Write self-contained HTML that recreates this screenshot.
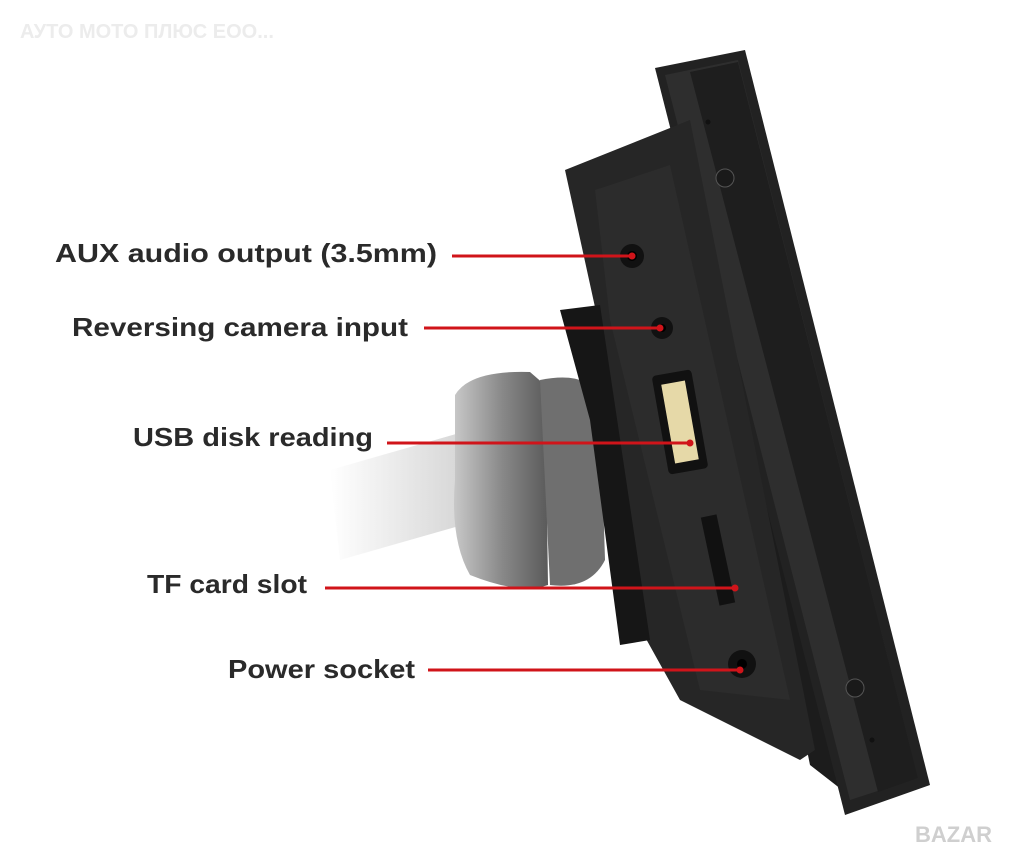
<!DOCTYPE html>
<html><head><meta charset="utf-8"><style>
html,body{margin:0;padding:0;background:#fff;width:1024px;height:862px;overflow:hidden}
svg{display:block}
text{font-family:"Liberation Sans",sans-serif}
</style></head><body>
<svg width="1024" height="862" viewBox="0 0 1024 862" xmlns="http://www.w3.org/2000/svg">
<defs>
<linearGradient id="knob" x1="0" x2="1"><stop offset="0" stop-color="#c8c8c8"/><stop offset="0.5" stop-color="#8a8a8a"/><stop offset="1" stop-color="#5a5a5a"/></linearGradient>
<linearGradient id="arm" x1="0" x2="1"><stop offset="0" stop-color="#fff"/><stop offset="1" stop-color="#bdbdbd"/></linearGradient>
</defs>
<text x="20" y="38" font-size="20" font-weight="bold" fill="#ececec">АУТО МОТО ПЛЮС ЕОО...</text>
<polygon points="330,470 470,430 480,520 340,560" fill="url(#arm)" opacity="0.7"/>
<path d="M455,395 Q470,370 530,372 L545,385 L548,585 Q520,595 470,575 Q450,540 455,480 Z" fill="url(#knob)"/>
<path d="M540,380 Q590,370 600,400 L605,560 Q590,590 550,585 Z" fill="#6f6f6f"/>
<!-- gap filler -->
<polygon points="680,120 760,110 855,800 810,765" fill="#1c1c1c"/>
<!-- outer screen frame -->
<polygon points="655,68 745,50 930,785 845,815" fill="#222"/>
<polygon points="665,75 738,60 918,778 850,800" fill="#2e2e2e"/>
<polygon points="690,72 738,62 918,778 878,792" fill="#1e1e1e"/>
<!-- body -->
<polygon points="565,170 690,120 815,750 800,760 680,700 630,610 600,330" fill="#262626"/>
<polygon points="595,190 670,165 790,700 700,690 610,320" fill="#2c2c2c"/>
<polygon points="560,310 600,305 650,640 620,645 590,420" fill="#161616"/>
<!-- ports -->
<circle cx="632" cy="256" r="12" fill="#111"/><circle cx="632" cy="256" r="5" fill="#000"/>
<circle cx="662" cy="328" r="11" fill="#111"/><circle cx="662" cy="328" r="4" fill="#000"/>
<rect x="660" y="372" width="40" height="100" rx="4" fill="#111" transform="rotate(-10 680 422)"/>
<rect x="668" y="382" width="24" height="80" fill="#e6d9a8" transform="rotate(-10 680 422)"/>
<rect x="710" y="515" width="16" height="90" fill="#111" transform="rotate(-12 718 560)"/>
<circle cx="742" cy="664" r="14" fill="#111"/><circle cx="742" cy="664" r="5" fill="#000"/>
<circle cx="725" cy="178" r="9" fill="#1a1a1a" stroke="#555"/>
<circle cx="855" cy="688" r="9" fill="#1a1a1a" stroke="#555"/>
<circle cx="708" cy="122" r="2.5" fill="#111"/><circle cx="872" cy="740" r="2.5" fill="#111"/>
<g font-size="26" font-weight="bold" fill="#2a2a2a">
<text x="55" y="262" textLength="382" lengthAdjust="spacingAndGlyphs">AUX audio output (3.5mm)</text>
<text x="72" y="336" textLength="336" lengthAdjust="spacingAndGlyphs">Reversing camera input</text>
<text x="133" y="446" textLength="240" lengthAdjust="spacingAndGlyphs">USB disk reading</text>
<text x="147" y="593" textLength="160" lengthAdjust="spacingAndGlyphs">TF card slot</text>
<text x="228" y="678" textLength="187" lengthAdjust="spacingAndGlyphs">Power socket</text>
</g>
<g stroke="#d0141a" stroke-width="3" fill="#d0141a">
<line x1="452" y1="256" x2="632" y2="256"/><circle cx="632" cy="256" r="3.5" stroke="none"/>
<line x1="424" y1="328" x2="660" y2="328"/><circle cx="660" cy="328" r="3.5" stroke="none"/>
<line x1="387" y1="443" x2="690" y2="443"/><circle cx="690" cy="443" r="3.5" stroke="none"/>
<line x1="325" y1="588" x2="735" y2="588"/><circle cx="735" cy="588" r="3.5" stroke="none"/>
<line x1="428" y1="670" x2="740" y2="670"/><circle cx="740" cy="670" r="3.5" stroke="none"/>
</g>
<text x="915" y="842" font-size="22" font-weight="bold" fill="#cfcfcf">BAZAR</text>
</svg>
</body></html>
